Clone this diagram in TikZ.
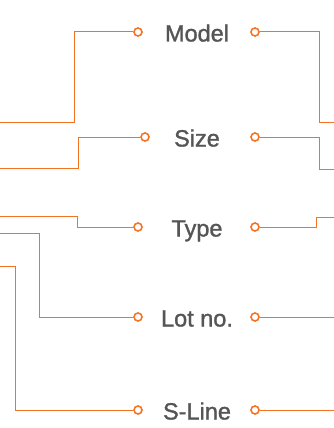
\documentclass[tikz,border=0pt]{standalone}
\usepackage{fontspec}
\setmainfont{Liberation Sans}
\newfontfamily\lblfont{Liberation Sans}[FakeBold=1.3]
\usetikzlibrary{positioning}
\definecolor{my_orange}{RGB}{243,115,35}
\definecolor{my_gray}{RGB}{85,85,85}
\tikzset{
  pin_c/.style = {circle, draw=my_orange, line width=1.6pt, fill=white, inner sep=0pt, minimum size=8pt},
  lbl/.style = {text=my_gray, font=\lblfont\fontsize{23.5}{28}\selectfont, anchor=base, inner sep=0pt},
  wire/.style = {draw=my_orange, line width=1pt}
}
\begin{document}
\begin{tikzpicture}[x=1pt,y=-1pt]
  \useasboundingbox (0,0) rectangle (334,428);
  % labels and their two pins
  \foreach \name/\txt/\y/\xl in {model/Model/32/138, size/Size/137/145, type/Type/227/138,
      lot/Lot no./317/138, sline/S-Line/410/138}{
    \node [lbl] (\name) at (197,\y+9.5) {\txt};
    \node [pin_c] (\name L) at (\xl,\y) {};
    \node [pin_c] (\name R) at (255,\y) {};
  }
  % free ends on the left edge
  \foreach \name/\y/\xb/\ye in {model/32/74/122, size/137/78/168, type/227/77/216,
      lot/317/39/233, sline/410/15/266}{
    \coordinate (\name W) at (0,\ye);
    \draw [wire] (\name L.west) -- (\xb,\y) -- (\xb,\ye) -- (\name W);
  }
  % free ends on the right edge
  \foreach \name/\y/\xb/\ye in {model/32/319/122, size/137/319/169, type/227/316/217,
      lot/317/334/317, sline/410/334/410}{
    \coordinate (\name E) at (334,\ye);
    \draw [wire] (\name R.east) -- (\xb,\y) -- (\xb,\ye) -- (\name E);
  }
\end{tikzpicture}
\end{document}
